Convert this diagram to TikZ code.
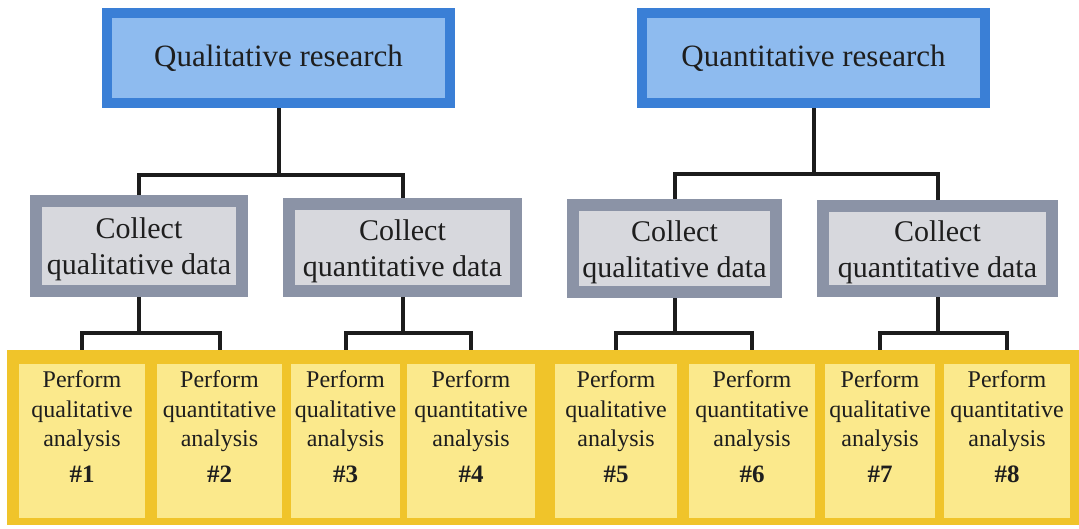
\documentclass[tikz,border=0pt]{standalone}
\usepackage{fontspec}
\setmainfont{Liberation Serif}
\usetikzlibrary{backgrounds}
\definecolor{blueB}{HTML}{3A7FD6}
\definecolor{blueF}{HTML}{8EBBEF}
\definecolor{grayB}{HTML}{8B93A6}
\definecolor{grayF}{HTML}{D7D8DD}
\definecolor{frameC}{HTML}{F0C42A}
\definecolor{cellF}{HTML}{FBE98C}
\definecolor{lineC}{HTML}{1C1C1C}
\definecolor{textC}{HTML}{1E1E1E}
\newcommand{\toppad}{\rule{0pt}{27.5pt}}
\newcommand{\numtxt}[1]{{\fontsize{25}{29.5}\selectfont\bfseries\##1}}
\begin{document}
\begin{tikzpicture}[x=1pt,y=-1pt,
  topbox/.style={draw=blueB, fill=blueF, line width=10pt, inner sep=0pt,
    text=textC, font=\fontsize{31}{36}\selectfont},
  midbox/.style={draw=grayB, fill=grayF, line width=12pt, inner sep=0pt,
    align=center, text=textC, font=\fontsize{30}{36}\selectfont},
  framebox/.style={fill=frameC, inner sep=0pt},
  cellbox/.style={fill=cellF, inner sep=0pt, minimum height=154pt},
  celltext/.style={align=center, anchor=north, inner sep=0pt, text=textC,
    font=\fontsize{24}{29.5}\selectfont},
  conn/.style={line width=4pt, draw=lineC}]
\useasboundingbox (0,0) rectangle (1079,529);

% top level
\node[topbox, minimum width=343pt, minimum height=90pt] (top1) at (278.5,58) {Qualitative research};
\node[topbox, minimum width=343pt, minimum height=90pt] (top2) at (813.5,58) {Quantitative research};

% middle level
\node[midbox, minimum width=206pt, minimum height=90pt] (mid1) at (139,246) {\toppad Collect\\qualitative data};
\node[midbox, minimum width=227pt, minimum height=87pt] (mid2) at (402.5,247.5) {\toppad Collect\\quantitative data};
\node[midbox, minimum width=203pt, minimum height=87pt] (mid3) at (674.5,248.5) {\toppad Collect\\qualitative data};
\node[midbox, minimum width=229pt, minimum height=85pt] (mid4) at (937.5,248.5) {\toppad Collect\\quantitative data};

% bottom frame and cells
\node[framebox, minimum width=1072pt, minimum height=175pt] (frame) at (543,437.5) {};
\node[cellbox, minimum width=126pt] (c1) at (82,441) {};
\node[cellbox, minimum width=125pt] (c2) at (219.5,441) {};
\node[cellbox, minimum width=109pt] (c3) at (345.5,441) {};
\node[cellbox, minimum width=128pt] (c4) at (471,441) {};
\node[cellbox, minimum width=122pt] (c5) at (616,441) {};
\node[cellbox, minimum width=126pt] (c6) at (752,441) {};
\node[cellbox, minimum width=110pt] (c7) at (880,441) {};
\node[cellbox, minimum width=126pt] (c8) at (1007,441) {};

\node[celltext] (t1) at ([yshift=-7pt]c1.north) {Perform\\qualitative\\analysis\\[6pt]\numtxt{1}};
\node[celltext] (t2) at ([yshift=-7pt]c2.north) {Perform\\quantitative\\analysis\\[6pt]\numtxt{2}};
\node[celltext] (t3) at ([yshift=-7pt]c3.north) {Perform\\qualitative\\analysis\\[6pt]\numtxt{3}};
\node[celltext] (t4) at ([yshift=-7pt]c4.north) {Perform\\quantitative\\analysis\\[6pt]\numtxt{4}};
\node[celltext] (t5) at ([yshift=-7pt]c5.north) {Perform\\qualitative\\analysis\\[6pt]\numtxt{5}};
\node[celltext] (t6) at ([yshift=-7pt]c6.north) {Perform\\quantitative\\analysis\\[6pt]\numtxt{6}};
\node[celltext] (t7) at ([yshift=-7pt]c7.north) {Perform\\qualitative\\analysis\\[6pt]\numtxt{7}};
\node[celltext] (t8) at ([yshift=-7pt]c8.north) {Perform\\quantitative\\analysis\\[6pt]\numtxt{8}};

% connectors
\begin{scope}[on background layer]
\fill[white] (0,0) rectangle (1079,529);
\coordinate (j1) at (278,175);
\draw[conn] (top1.south) -- (top1.south |- j1);
\draw[conn] (mid1.north) |- (j1) -| (mid2.north);
\coordinate (j2) at (813,174);
\draw[conn] (top2.south) -- (top2.south |- j2);
\draw[conn] (mid3.north) |- (j2) -| (mid4.north);
\coordinate (j3) at (139,333);
\draw[conn] (mid1.south) -- (mid1.south |- j3);
\draw[conn] (c1.north) |- (j3) -| (c2.north);
\coordinate (j4) at (402,333);
\draw[conn] (mid2.south) -- (mid2.south |- j4);
\draw[conn] (c3.north) |- (j4) -| (c4.north);
\coordinate (j5) at (675,333);
\draw[conn] (mid3.south) -- (mid3.south |- j5);
\draw[conn] (c5.north) |- (j5) -| (c6.north);
\coordinate (j6) at (937,333);
\draw[conn] (mid4.south) -- (mid4.south |- j6);
\draw[conn] (c7.north) |- (j6) -| (c8.north);
\end{scope}
\end{tikzpicture}
\end{document}
